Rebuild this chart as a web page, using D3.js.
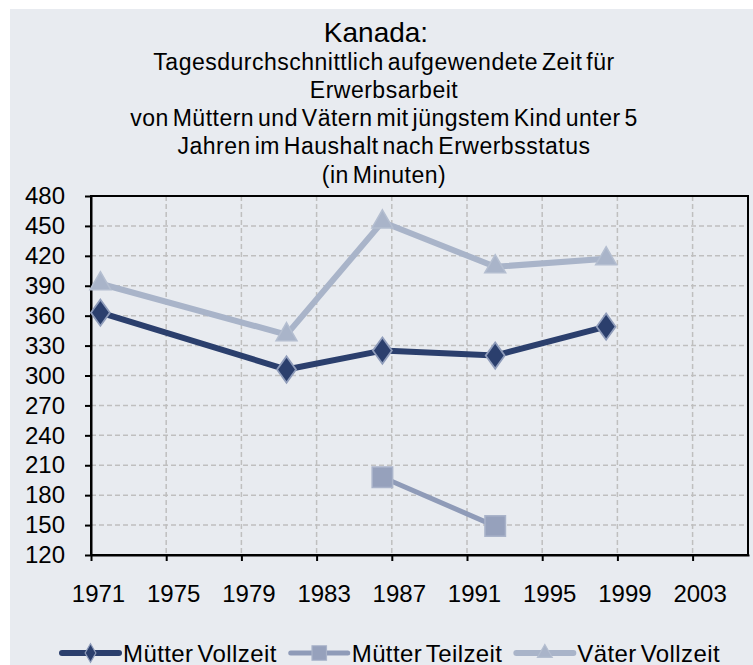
<!DOCTYPE html>
<html>
<head>
<meta charset="utf-8">
<script src="https://cdn.jsdelivr.net/npm/d3@7"></script>
<style>
  body { margin: 0; background: #ffffff; }
  text { font-family: "Liberation Sans", Arial, sans-serif; }
</style>
</head>
<body>
<script>
// survey years (plotted at their position within the year)
const years = [1971.5, 1981.4, 1986.5, 1992.5, 1998.4];
const muetterVollzeit = [363, 306, 325, 320, 349];
const muetterTeilzeit = [null, null, 198, 149, null];
const vaeterVollzeit = [392, 341, 454, 409, 417];

const xTicks = [1971, 1975, 1979, 1983, 1987, 1991, 1995, 1999, 2003];
const yTicks = [120, 150, 180, 210, 240, 270, 300, 330, 360, 390, 420, 450, 480];

const titleLines = [
  "Tagesdurchschnittlich aufgewendete Zeit für",
  "Erwerbsarbeit",
  "von Müttern und Vätern mit jüngstem Kind unter 5",
  "Jahren im Haushalt nach Erwerbsstatus",
  "(in Minuten)"
];
const seriesNames = ["Mütter Vollzeit", "Mütter Teilzeit", "Väter Vollzeit"];

const W = 753, H = 665;
const pLeft = 91, pRight = 748, pTop = 196, pBottom = 555;

let svg = d3.select("body").append("svg")
  .attr("width", W)
  .attr("height", H);

svg.append("rect")
  .attr("x", 10).attr("y", 9)
  .attr("width", W - 10).attr("height", H - 9)
  .attr("fill", "#e8ebf0");

// titles
svg.append("text")
  .attr("x", 376).attr("y", 42)
  .attr("text-anchor", "middle")
  .attr("font-size", "28px")
  .attr("fill", "#000")
  .text("Kanada:");

svg.selectAll(null)
  .data(titleLines)
  .enter()
  .append("text")
    .attr("x", 384)
    .attr("y", (d, i) => 69.5 + i * 28.3)
    .attr("text-anchor", "middle")
    .attr("font-size", "23px")
    .attr("letter-spacing", "0.5px")
    .attr("word-spacing", "-3px")
    .attr("fill", "#000")
    .text(d => d);

let x = d3.scaleLinear().domain([1971, 2006]).range([pLeft, pLeft + 35 * 18.8]);
let y = d3.scaleLinear().domain([120, 480]).range([pBottom, pTop]);

// grid
svg.append("g")
  .selectAll("line")
  .data(yTicks.slice(1, -1))
  .enter()
  .append("line")
    .attr("x1", pLeft).attr("x2", pRight)
    .attr("y1", d => y(d)).attr("y2", d => y(d))
    .attr("stroke", "#bfbfbf")
    .attr("stroke-width", 1.5)
    .attr("stroke-dasharray", "5,3");

svg.append("g")
  .selectAll("line")
  .data(xTicks.slice(1))
  .enter()
  .append("line")
    .attr("x1", d => x(d)).attr("x2", d => x(d))
    .attr("y1", pTop).attr("y2", pBottom)
    .attr("stroke", "#bfbfbf")
    .attr("stroke-width", 1.5)
    .attr("stroke-dasharray", "5,3");

// frame
svg.append("rect")
  .attr("x", pLeft).attr("y", pTop)
  .attr("width", pRight - pLeft).attr("height", pBottom - pTop)
  .attr("fill", "none")
  .attr("stroke", "#000")
  .attr("stroke-width", 2);

// axes
let yAxis = svg.append("g")
  .attr("transform", `translate(${pLeft},0)`)
  .call(d3.axisLeft(y).tickValues(yTicks).tickSize(6).tickPadding(20).tickSizeOuter(0));

let xAxis = svg.append("g")
  .attr("transform", `translate(0,${pBottom})`)
  .call(d3.axisBottom(x).tickValues(xTicks).tickFormat(d3.format("d")).tickSize(6).tickSizeOuter(0));

[yAxis, xAxis].forEach(a => {
  a.select(".domain").attr("stroke", "#000").attr("stroke-width", 2);
  a.selectAll(".tick line").attr("stroke", "#000").attr("stroke-width", 2);
  a.selectAll("text")
    .attr("font-family", "Liberation Sans, Arial, sans-serif")
    .attr("font-size", "24px")
    .attr("fill", "#000");
});
xAxis.selectAll("text").attr("dx", 7).attr("y", 30);

// series
const series = [
  { name: seriesNames[0], values: muetterVollzeit, line: "#2b3f6d", fill: "#2b3f6d", stroke: "#8f9cba", shape: d3.symbolDiamond, size: 200, width: 6 },
  { name: seriesNames[1], values: muetterTeilzeit, line: "#8f9bb8", fill: "#96a1bc", stroke: "#aab4ca", shape: d3.symbolSquare, size: 420, width: 5 },
  { name: seriesNames[2], values: vaeterVollzeit, line: "#a9b4c9", fill: "#a9b4c9", stroke: "#b4bed0", shape: d3.symbolTriangle, size: 190, width: 6 }
];

let line = d3.line()
  .defined(d => d[1] != null)
  .x(d => x(d[0]))
  .y(d => y(d[1]));

series.forEach(s => {
  let pts = years.map((yr, i) => [yr, s.values[i]]);
  svg.append("path")
    .datum(pts)
    .attr("d", line)
    .attr("fill", "none")
    .attr("stroke", s.line)
    .attr("stroke-width", s.width)
    .attr("stroke-linejoin", "round");

  svg.selectAll(null)
    .data(pts.filter(p => p[1] != null))
    .enter()
    .append("path")
      .attr("d", d3.symbol().type(s.shape).size(s.size))
      .attr("transform", d => `translate(${x(d[0])},${y(d[1])})` + (s.shape === d3.symbolDiamond ? " scale(1.25,1)" : ""))
      .attr("fill", s.fill)
      .attr("stroke", s.stroke)
      .attr("stroke-width", 1.5);
});

// legend
let lx = 62;
const ly = 653;
series.forEach(s => {
  let g = svg.append("g").attr("transform", `translate(${lx},${ly})`);
  g.append("line")
    .attr("x1", 0).attr("x2", 57)
    .attr("stroke", s.line)
    .attr("stroke-width", s.width)
    .attr("stroke-linecap", "round");
  g.append("path")
    .attr("d", d3.symbol().type(s.shape).size(s.size * 0.5))
    .attr("transform", "translate(28.5,0)")
    .attr("fill", s.fill)
    .attr("stroke", s.stroke)
    .attr("stroke-width", 1.2);
  let t = g.append("text")
    .attr("x", 61).attr("y", 8.5)
    .attr("font-size", "24px")
    .attr("letter-spacing", "0.4px")
    .attr("word-spacing", "-3px")
    .attr("fill", "#000")
    .text(s.name);
  lx += 61 + t.node().getComputedTextLength() + 14;
});
</script>
</body>
</html>
